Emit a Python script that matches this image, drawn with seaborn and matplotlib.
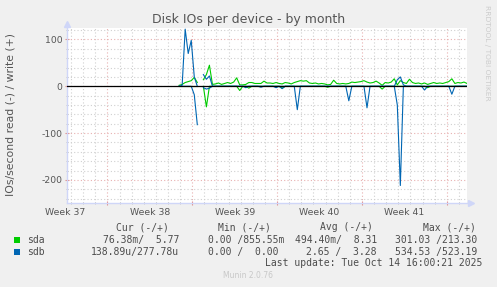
import numpy as np
import pandas as pd
import matplotlib
matplotlib.use("Agg")
import matplotlib.pyplot as plt
from matplotlib.patches import Rectangle
import seaborn as sns

nan = np.nan

# ---------------- data ----------------
# samples every 6 h, in days relative to the last update (Tue Oct 14 16:00)
first_sample_day = -23.75
sample_step_days = 0.25

sda_write = [2, 4, 8, 10, 12, 19, 8, nan, 14, 25, 45, 4,
             5, 7, 4, 6, 8, 6, 9, 18, 3, 3, 4, 8,
             8, 6, 6, 6, 11, 7, 7, 6, 8, 6, 5, 8,
             7, 5, 8, 10, 12, 11, 12, 7, 6, 7, 5, 6,
             5, 3, 4, 13, 6, 5, 6, 5, 6, 9, 8, 9,
             10, 12, 9, 7, 8, 11, 7, 2, 8, 7, 9, 16,
             3, 12, 8, 6, 15, 8, 6, 7, 5, 7, 4, 6,
             8, 6, 7, 6, 8, 10, 16, 6, 8, 7, 9, 6]
sda_read = [0, 0, 0, 0, 0, 0, 0, nan, 0, -44, 0, 0,
            0, 0, 0, 0, 0, 0, 0, 0, -9, 0, 0, -4,
            0, 0, 0, 0, 0, 0, 0, 0, 0, 0, -4, 0,
            0, 0, 0, 0, 0, 0, 0, 0, 0, 0, 0, 0,
            0, -2, 0, 0, 0, 0, 0, 0, 0, 0, 0, 0,
            0, 0, 0, 0, 0, 0, 0, -6, 0, 0, 0, 0,
            0, 0, 0, 0, 0, 0, 0, 0, 0, 0, -3, 0,
            0, 0, 0, 0, 0, 0, 0, 0, 0, 0, 0, 0]
sdb_write = [0, 2, 122, 70, 98, 20, 0, nan, 25, 15, 22, 0,
             0, 0, 0, 0, 0, 0, 0, 0, 0, 0, 0, 0,
             0, 0, 0, 0, 0, 0, 0, 0, 0, 0, 0, 0,
             0, 0, 0, 0, 0, 0, 0, 0, 0, 0, 0, 0,
             0, 0, 0, 0, 0, 0, 0, 0, 0, 0, 0, 0,
             0, 0, 0, 0, 0, 0, 0, 0, 0, 0, 0, 0,
             14, 20, 3, 0, 0, 0, 0, 0, 0, 0, 0, 0,
             0, 0, 0, 0, 0, 0, 0, 0, 0, 0, 0, 0]
sdb_read = [0, 0, 0, 0, 0, -18, -82, nan, -3, -6, -4, 0,
            0, 0, 0, 0, 0, 0, 0, 0, 0, 0, -3, 0,
            0, 0, 0, -2, 0, 0, 0, 0, -3, 0, -5, 0,
            0, 0, 0, -50, 0, 0, 0, 0, 0, 0, 0, 0,
            0, 0, 0, 0, 0, 0, 0, 0, -31, 0, 0, 0,
            0, 0, -46, 0, 0, 0, 0, 0, 0, 0, 0, 0,
            -40, -212, 0, 0, 0, 0, 0, 0, 0, -8, 0, 0,
            0, 0, 0, 0, 0, 0, -17, 0, 0, 0, 0, 0]

week_labels = ["Week 37", "Week 38", "Week 39", "Week 40", "Week 41"]
week_centers = [-33.167, -26.167, -19.167, -12.167, -5.167]
week_bounds = [-29.667, -22.667, -15.667, -8.667, -1.667]
y_ticks = [-200, -100, 0, 100]

devices = ["sda", "sdb"]
device_colors = ["#00CC00", "#0066B3"]
cur_vals = ["76.38m/  5.77", "138.89u/277.78u"]
min_vals = ["0.00 /855.55m", "0.00 /  0.00"]
avg_vals = ["494.40m/  8.31", "2.65 /  3.28"]
max_vals = ["301.03 /213.30", "534.53 /523.19"]

title = "Disk IOs per device - by month"
ylabel = "IOs/second read (-) / write (+)"
last_update = "Last update: Tue Oct 14 16:00:21 2025"

# ---------------- build table ----------------
n = len(sda_write)
t = first_sample_day + sample_step_days * np.arange(n)
frames = []
for name, vals in [("sda_read", sda_read), ("sda_write", sda_write),
                   ("sdb_read", sdb_read), ("sdb_write", sdb_write)]:
    v = np.array(vals, dtype=float)
    seg = np.cumsum(np.isnan(v))
    frames.append(pd.DataFrame({"t": t, "value": v, "series": name, "seg": seg}))
df = pd.concat(frames, ignore_index=True).dropna()

# ---------------- figure ----------------
W, H = 497, 287
fig = plt.figure(figsize=(W / 100, H / 100), dpi=100, facecolor="#F0F0F0")
ax = fig.add_axes([67 / W, (H - 203.3) / H, 400 / W, 175.3 / H])
ax.set_facecolor("white")

ax.set_xlim(-33, 0)
ax.set_ylim(-250, 124.5)

minor_days = [d for d in np.arange(-0.667, -33, -1.0) if min(abs(d - b) for b in week_bounds) > 0.1]
ax.set_xticks(week_bounds)
ax.set_xticks(minor_days, minor=True)
ax.set_yticks(y_ticks)
ax.set_yticklabels([str(v) for v in y_ticks])
ax.set_yticks([v for v in range(-240, 124, 20) if v not in y_ticks], minor=True)

ax.grid(which="major", color="#E8B0B0", linestyle=(0, (1, 2)), linewidth=0.8)
ax.grid(which="minor", color="#D0D0D0", linestyle=(0, (1, 2)), linewidth=0.8)
ax.set_axisbelow(True)

ax.tick_params(axis="x", which="major", color="#E09090", length=3, direction="inout",
               labelbottom=False)
ax.tick_params(axis="x", which="minor", color="#BBBBBB", length=2, direction="inout")
ax.tick_params(axis="y", which="major", color="#E09090", length=3, direction="inout",
               labelcolor="#555555", labelsize=6.7, pad=2)
ax.tick_params(axis="y", which="minor", color="#BBBBBB", length=2, direction="inout")

for s in ["top", "right"]:
    ax.spines[s].set_visible(False)
for s in ["left", "bottom"]:
    ax.spines[s].set_color("#CFD6F8")
    ax.spines[s].set_linewidth(1)
ax.plot([1.01], [0], marker=">", color="#CFD6F8", markersize=5, transform=ax.transAxes, clip_on=False)
ax.plot([0], [1.025], marker="^", color="#CFD6F8", markersize=5, transform=ax.transAxes, clip_on=False)

color_map = {"sda_read": "#00CC00", "sda_write": "#00CC00",
             "sdb_read": "#0066B3", "sdb_write": "#0066B3"}
for name in ["sda_read", "sda_write", "sdb_read", "sdb_write"]:
    sub = df[df["series"] == name]
    sns.lineplot(data=sub, x="t", y="value", units="seg", estimator=None, sort=False,
                 color=color_map[name], linewidth=0.8, ax=ax, zorder=3)
ax.axhline(0, color="black", linewidth=0.9, zorder=4)
ax.set_xlabel("")
ax.set_ylabel("")

for lab, c in zip(week_labels, week_centers):
    ax.text(c, -0.055, lab, transform=ax.get_xaxis_transform(), ha="center", va="center",
            fontsize=6.7, color="#555555", clip_on=False)

# ---------------- texts ----------------
fig.text(249 / W, 1 - 19 / H, title, ha="center", va="center", fontsize=9, color="#555555")
fig.text(11 / W, 1 - 114.5 / H, ylabel, rotation=90, ha="center", va="center",
         fontsize=7.8, color="#555555")
fig.text(487 / W, 1 - 5 / H, "RRDTOOL / TOBI OETIKER", rotation=270, ha="center", va="top",
         fontsize=5.4, color="#CCCCCC")

mono = dict(family="DejaVu Sans Mono", fontsize=7, color="#4C4C4C", va="center")
for x, lab in zip([169, 271, 373, 476], ["Cur (-/+)", "Min (-/+)", "Avg (-/+)", "Max (-/+)"]):
    fig.text(x / W, 1 - 227 / H, lab, ha="right", **mono)
row_y = [240, 252]
for i, dev in enumerate(devices):
    y = row_y[i]
    fig.add_artist(Rectangle((14 / W, 1 - (y + 3) / H), 6 / W, 6 / H,
                             transform=fig.transFigure, facecolor=device_colors[i],
                             edgecolor="none"))
    fig.text(27 / W, 1 - y / H, dev, ha="left", **mono)
    fig.text(179 / W, 1 - y / H, cur_vals[i], ha="right", **mono)
    fig.text((284 if i == 0 else 278) / W, 1 - y / H, min_vals[i], ha="right", **mono)
    fig.text(377 / W, 1 - y / H, avg_vals[i], ha="right", **mono)
    fig.text(477 / W, 1 - y / H, max_vals[i], ha="right", **mono)
fig.text(482 / W, 1 - 263 / H, last_update, ha="right", **mono)
fig.text(248 / W, 1 - 276 / H, "Munin 2.0.76", ha="center", va="center",
         fontsize=5.5, color="#C8C8C8")

fig.savefig("out.png", dpi=100, facecolor=fig.get_facecolor())
